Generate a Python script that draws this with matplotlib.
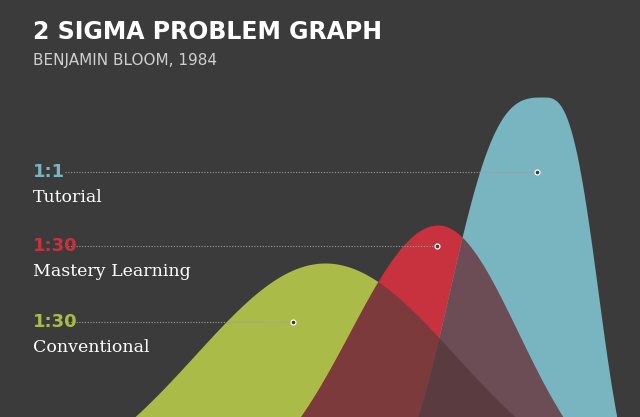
import numpy as np
import matplotlib
matplotlib.use("Agg")
import matplotlib.pyplot as plt

BG = "#3b3b3b"
# curve parameters (pixel-ish units, y up from bottom edge)
names = ["Conventional", "Mastery Learning", "Tutorial"]
ratios = ["1:30", "1:30", "1:1"]
colors = ["#abbb48", "#c8323f", "#78b5c1"]
means = [325, 438, 543]
amps = [234, 272, 400]
sd_left = [130, 88, 85]
sd_right = [130, 80, 50]
shape = [2, 2, 3]
base = [-80, -80, -80]
marker_x = [293, 437, 537]
marker_y = [95, 171, 245]
# colours where two curves overlap: (i, j, colour)
overlaps = [(0, 1, "#7d3a3d"), (1, 2, "#6d4d55"), (0, 2, "#5c5c50")]

fig = plt.figure(figsize=(6.4, 4.17), dpi=100, facecolor=BG)
ax = fig.add_axes([0, 0, 1, 1])
ax.set_facecolor(BG)
ax.set_xlim(0, 640); ax.set_ylim(0, 417); ax.axis("off")

x = np.linspace(0, 640, 1500)
curves = []
for m, a, sl, sr, p, b in zip(means, amps, sd_left, sd_right, shape, base):
    s = np.where(x < m, sl, sr)
    curves.append(b + a * np.exp(-np.abs((x - m) / s) ** p / 2))

for y, c in zip(curves, colors):
    ax.fill_between(x, 0, y, where=y > 0, color=c, lw=0, zorder=2)
for i, j, c in overlaps:
    y = np.minimum(curves[i], curves[j])
    ax.fill_between(x, 0, y, where=y > 0, color=c, lw=0, zorder=2.5)
y = np.minimum(np.minimum(curves[0], curves[1]), curves[2])
ax.fill_between(x, 0, y, where=y > 0, color="#5a3c40", lw=0, zorder=2.6)

for n, r, c, mx, my in zip(names, ratios, colors, marker_x, marker_y):
    ax.plot([65, mx], [my, my], ls=(0, (1, 1.5)), color="#9a9a9a", lw=0.8, zorder=3)
    ax.plot(mx, my, "o", ms=3.5, mfc=BG, mec="white", mew=0.9, zorder=4)
    ax.text(33, my, r, color=c, fontsize=13, fontweight="bold", va="center", ha="left")
    ax.text(33, my - 25, n, color="white", fontsize=12.5, family="DejaVu Serif",
            va="center", ha="left")

ax.text(33, 385, "2 SIGMA PROBLEM GRAPH", color="white", fontsize=17,
        fontweight="bold", va="center", ha="left")
ax.text(33, 357, "BENJAMIN BLOOM, 1984", color="#cfcfcf", fontsize=11,
        va="center", ha="left")

fig.savefig("out.png", dpi=100, facecolor=BG)
